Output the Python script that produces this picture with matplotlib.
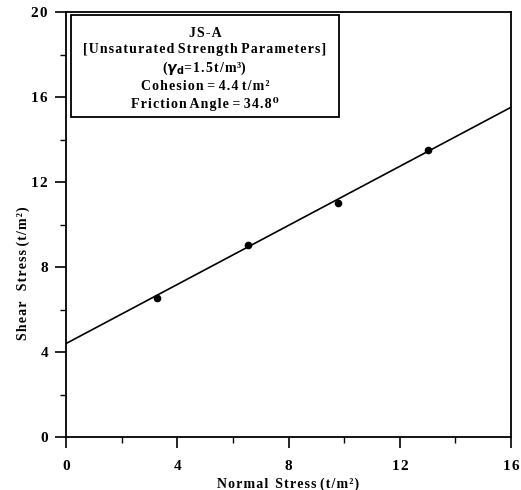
import matplotlib
matplotlib.use('Agg')
import matplotlib.pyplot as plt
from matplotlib.patches import Rectangle
import numpy as np

# measured points (normal stress, shear stress), t/m2
normal_stress = [3.26, 6.54, 9.77, 13.0]
shear_stress = [6.55, 9.04, 11.0, 13.5]

# strength envelope
cohesion = 4.4
friction_angle = 34.8
line_x = [0, 16]

x_ticks = [0, 4, 8, 12, 16]
y_ticks = [0, 4, 8, 12, 16, 20]

plt.rcParams['font.family'] = ['Liberation Serif', 'DejaVu Serif']
plt.rcParams['font.weight'] = 'bold'

HS = '\u200a'  # hair space, used as letter spacing


def spaced(s):
    return HS.join(s)


fig = plt.figure(figsize=(5.21, 4.9), dpi=100)
ax = fig.add_axes([0.1267, 0.108, 0.8543, 0.8675])

slope = np.tan(np.radians(friction_angle))
line_y = [cohesion + slope * x for x in line_x]
ax.plot(line_x, line_y, color='black', lw=1.2)
ax.plot(normal_stress, shear_stress, 'o', color='black', ms=4.5)

ax.set_xlim(0, 16)
ax.set_ylim(0, 20)
ax.set_xticks(x_ticks)
ax.set_yticks(y_ticks)
ax.set_xticklabels([spaced(str(t)) for t in x_ticks])
ax.set_yticklabels([spaced(str(t)) for t in y_ticks])
ax.set_xticks([2, 6, 10, 14], minor=True)
ax.set_yticks([2, 6, 10, 14, 18], minor=True)
ax.tick_params(which='major', direction='out', length=8, width=1.2, labelsize=11)
ax.tick_params(axis='x', which='major', pad=8.5)
ax.tick_params(axis='y', which='major', pad=5)
ax.tick_params(which='minor', direction='out', length=4, width=1)
for lab in ax.get_xticklabels() + ax.get_yticklabels():
    lab.set_fontweight('bold')
for s in ax.spines.values():
    s.set_linewidth(1.3)

ax.set_xlabel(spaced('Normal') + '  ' + spaced('Stress') + ' ' + spaced('(t/m²)'),
              fontsize=10, fontweight='bold', labelpad=3)
ax.set_ylabel(spaced('Shear') + '   ' + spaced('Stress') + ' ' + spaced('(t/m²)'),
              fontsize=10, fontweight='bold')
ax.yaxis.set_label_coords(-0.081, 0.385)

# parameter box
ax.add_patch(Rectangle((0.011, 0.753), 0.602, 0.240, transform=ax.transAxes,
                       fill=True, fc='white', ec='black', lw=1.3, zorder=3))
lines = [
    spaced('JS-A'),
    ' '.join(spaced(w) for w in '[Unsaturated Strength Parameters]'.split()),
    '(' + r'$\gamma_{\mathbf{d}}$' + spaced('=1.5t/m³') + ')',
    ' '.join(spaced(w) for w in 'Cohesion = 4.4 t/m²'.split()),
    ' '.join(spaced(w) for w in 'Friction Angle = 34.8⁰'.split()),
]
ax.text(0.312, 0.866, '\n'.join(lines), transform=ax.transAxes, ha='center', va='center',
        fontsize=10, fontweight='bold', linespacing=1.3, zorder=4)

fig.savefig('out.png', dpi=100)
